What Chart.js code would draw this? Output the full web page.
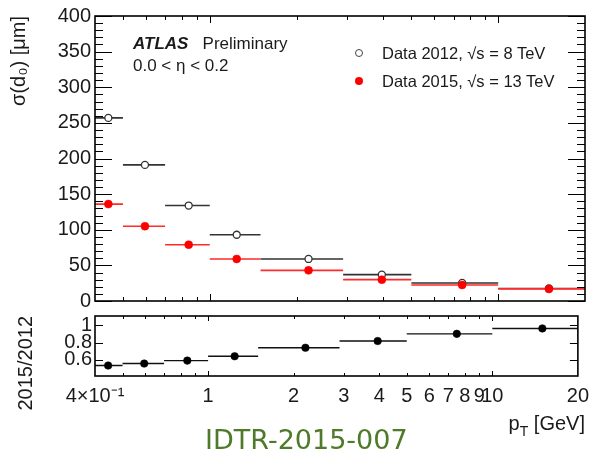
<!DOCTYPE html>
<html>
<head>
<meta charset="utf-8">
<script src="https://cdn.jsdelivr.net/npm/chart.js@4/dist/chart.umd.min.js"></script>
<style>
  body { margin: 0; background: #fff; }
  #wrap { position: relative; width: 597px; height: 455px; font-family: "Liberation Sans", Arial, sans-serif; color: #1a1a1a; }
  canvas { position: absolute; left: 0; top: 0; }
  .t { position: absolute; white-space: nowrap; line-height: 1; }
  .mk { position: absolute; box-sizing: border-box; border-radius: 50%; }
</style>
</head>
<body>
<div id="wrap">
  <canvas id="top" width="597" height="455"></canvas>
  <canvas id="bot" width="597" height="455"></canvas>

  <div class="t" style="left:133px;top:35px;font-size:17px"><b><i>ATLAS</i></b>&nbsp;&nbsp;&nbsp;Preliminary</div>
  <div class="t" style="left:133px;top:57px;font-size:17px">0.0 &lt; η &lt; 0.2</div>

  <span class="mk" style="left:355px;top:49px;width:8px;height:8px;border:1.3px solid #444;background:#fff"></span>
  <div class="t" style="left:382px;top:45px;font-size:16.5px">Data 2012, √s = 8 TeV</div>
  <span class="mk" style="left:355px;top:77px;width:8px;height:8px;background:#ff0000"></span>
  <div class="t" style="left:382px;top:73px;font-size:16.5px">Data 2015, √s = 13 TeV</div>

  <div class="t" style="right:12px;top:413px;font-size:20px">p<span style="font-size:70%;position:relative;top:0.45em">T</span> [GeV]</div>
  <div class="t" style="left:205px;top:426px;font-size:27px;font-family:'DejaVu Sans',sans-serif;color:#4e7a2a">IDTR-2015-007</div>
</div>

<script>
// p_T bins [GeV] and mean p_T of each bin
const binEdges = [0.4, 0.5, 0.7, 1.0, 1.5, 2.9, 5, 10, 20];
const ptMean   = [0.445, 0.596, 0.845, 1.24, 2.2, 3.95, 7.5, 15];

// sigma(d0) [um]
const sigma2012 = [257, 191, 134, 93, 59, 37, 25.3, 17.6];
const sigma2015 = [136, 105, 79, 59, 43, 30, 22.5, 17];

// 2015/2012
const ratio = [0.535, 0.558, 0.592, 0.642, 0.74, 0.817, 0.90, 0.962];

// axis ticks
const xTickValues = [0.4, 1, 2, 3, 4, 5, 6, 7, 8, 9, 10, 20];
const xTickText   = ['4×10⁻¹', '1', '2', '3', '4', '5', '6', '7', '8', '9', '10', '20'];
const xMajor = [1, 10];
const xMinor = [0.5, 0.6, 0.7, 0.8, 0.9, 2, 3, 4, 5, 6, 7, 8, 9];
const yTopMajor = [0, 50, 100, 150, 200, 250, 300, 350, 400];
const yRatioTicks = [0.6, 0.8, 1.0];

const yTopMinor = [];
for (let v = 10; v < 400; v += 10) if (v % 50) yTopMinor.push(v);

const FONT = "'Liberation Sans', Arial, sans-serif";
const INK = '#1a1a1a';

// horizontal bin bars as broken line segments
function binBars(vals) {
  const pts = [];
  vals.forEach((v, i) => {
    pts.push({x: binEdges[i], y: v}, {x: binEdges[i + 1], y: v}, {x: binEdges[i + 1], y: null});
  });
  return pts;
}
const markers = vals => vals.map((v, i) => ({x: ptMean[i], y: v}));

// ROOT-like frame with inward ticks
const framePlugin = {
  id: 'frame',
  afterDraw(chart, args, o) {
    const {ctx, chartArea: a, scales: {x, y}} = chart;
    ctx.save();
    ctx.strokeStyle = '#000';
    ctx.lineWidth = 1;
    ctx.beginPath();
    const hTick = (v, len) => {
      const p = Math.round(y.getPixelForValue(v)) + 0.5;
      ctx.moveTo(a.left, p); ctx.lineTo(a.left + len, p);
      ctx.moveTo(a.right, p); ctx.lineTo(a.right - len, p);
    };
    const vTick = (v, len) => {
      const p = Math.round(x.getPixelForValue(v)) + 0.5;
      ctx.moveTo(p, a.bottom); ctx.lineTo(p, a.bottom - len);
      ctx.moveTo(p, a.top); ctx.lineTo(p, a.top + len);
    };
    o.yMajor.forEach(v => hTick(v, o.yMajLen));
    o.yMinor.forEach(v => hTick(v, o.yMinLen));
    xMajor.forEach(v => vTick(v, o.xMajLen));
    xMinor.forEach(v => vTick(v, o.xMinLen));
    ctx.stroke();
    ctx.lineWidth = 1.6;
    ctx.strokeRect(a.left, a.top, a.right - a.left, a.bottom - a.top);
    ctx.restore();
  }
};

const xScale = (show) => ({
  type: 'logarithmic',
  min: 0.4, max: 20,
  display: show,
  grid: { display: false, tickLength: 0 },
  border: { display: false },
  afterBuildTicks: s => { s.ticks = xTickValues.map(v => ({value: v})); },
  afterFit: s => { s.height = show ? 79 : 0; },
  ticks: {
    autoSkip: false, maxRotation: 0, padding: 8,
    color: INK, font: {family: FONT, size: 20},
    callback: (v, i) => xTickText[i]
  }
});

const baseOpts = {
  responsive: false,
  animation: false,
  events: [],
  plugins: { legend: {display: false}, tooltip: {enabled: false} }
};

new Chart(document.getElementById('top'), {
  type: 'scatter',
  data: {
    datasets: [
      { data: markers(sigma2015), order: 0, pointRadius: 4, pointBackgroundColor: '#ff0000', pointBorderColor: '#ff0000', pointBorderWidth: 0.5 },
      { data: markers(sigma2012), order: 1, pointRadius: 3.5, pointBackgroundColor: '#fff', pointBorderColor: '#333', pointBorderWidth: 1.3 },
      { data: binBars(sigma2015), order: 2, showLine: true, pointRadius: 0, borderColor: '#ff2a2a', borderWidth: 1.6, spanGaps: false },
      { data: binBars(sigma2012), order: 3, showLine: true, pointRadius: 0, borderColor: '#333', borderWidth: 1.6, spanGaps: false }
    ]
  },
  options: {
    ...baseOpts,
    layout: { padding: {top: 16, right: 12, bottom: 154, left: 0} },
    scales: {
      x: xScale(false),
      y: {
        min: 0, max: 400,
        grid: { display: false, tickLength: 0 },
        border: { display: false },
        afterBuildTicks: s => { s.ticks = yTopMajor.map(v => ({value: v})); },
        afterFit: s => { s.width = 95; },
        ticks: { autoSkip: false, padding: 4, color: INK, font: {family: FONT, size: 20} },
        title: { display: true, text: 'σ(d₀) [μm]', align: 'end', color: INK,
                 font: {family: FONT, size: 20}, padding: {top: 7, bottom: 0} }
      }
    },
    plugins: {
      ...baseOpts.plugins,
      frame: { yMajor: yTopMajor, yMinor: yTopMinor, yMajLen: 17, yMinLen: 8, xMajLen: 7, xMinLen: 4 }
    }
  },
  plugins: [framePlugin]
});

new Chart(document.getElementById('bot'), {
  type: 'scatter',
  data: {
    datasets: [
      { data: markers(ratio), order: 0, pointRadius: 3.8, pointBackgroundColor: '#000', pointBorderColor: '#000', pointBorderWidth: 0.5 },
      { data: binBars(ratio), order: 1, showLine: true, pointRadius: 0, borderColor: '#111', borderWidth: 1.4, spanGaps: false }
    ]
  },
  options: {
    ...baseOpts,
    layout: { padding: {top: 316, right: 12, bottom: 0, left: 0} },
    scales: {
      x: xScale(true),
      y: {
        min: 0.415, max: 1.105,
        grid: { display: false, tickLength: 0 },
        border: { display: false },
        afterBuildTicks: s => { s.ticks = yRatioTicks.map(v => ({value: v})); },
        afterFit: s => { s.width = 95; },
        ticks: { autoSkip: false, padding: 3, color: INK, font: {family: FONT, size: 20},
                 callback: v => String(+v.toFixed(1)) },
        title: { display: true, text: '2015/2012', align: 'end', color: INK,
                 font: {family: FONT, size: 20}, padding: {top: 14, bottom: 0} }
      }
    },
    plugins: {
      ...baseOpts.plugins,
      frame: { yMajor: yRatioTicks, yMinor: [], yMajLen: 8, yMinLen: 0, xMajLen: 5, xMinLen: 3 }
    }
  },
  plugins: [framePlugin]
});
</script>
</body>
</html>
